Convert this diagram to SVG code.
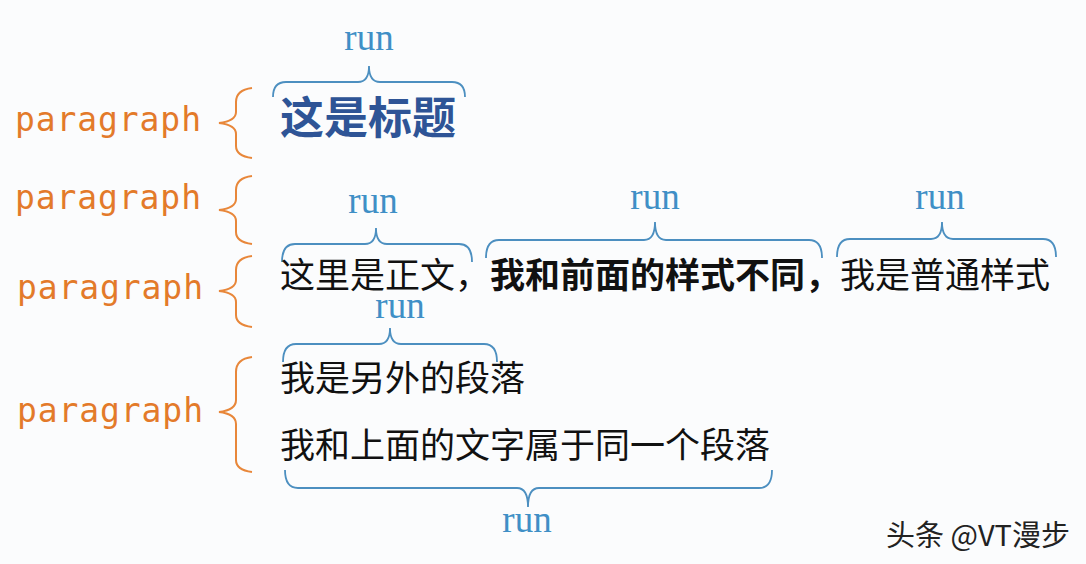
<svg xmlns="http://www.w3.org/2000/svg" width="1086" height="564" viewBox="0 0 1086 564">
<style>
.para{font-family:"DejaVu Sans Mono","Liberation Mono",monospace;font-size:33px;fill:#e37a2a}
.run{font-family:"Liberation Serif","DejaVu Serif",serif;font-size:37px;fill:#3f8fc6;text-anchor:middle}
.ob{fill:none;stroke:#e8873a;stroke-width:2}
.bb{fill:none;stroke:#4c8fc0;stroke-width:1.8}
.txt{font-family:"Noto Sans CJK SC","Noto Sans",sans-serif;font-size:35px;fill:#111}
.bold{font-weight:700}
.title{font-family:"Noto Sans CJK SC","Noto Sans",sans-serif;font-size:44px;font-weight:700;fill:#2e5496}
.wm{font-family:"Noto Sans CJK SC","Noto Sans",sans-serif;font-size:29px;fill:#222}
</style>
<rect width="1086" height="564" fill="#fbfcfd"/>
<g id="labels">
<text class="para" x="15" y="131" textLength="186" lengthAdjust="spacing">paragraph</text>
<text class="para" x="15" y="209" textLength="186" lengthAdjust="spacing">paragraph</text>
<text class="para" x="17" y="299" textLength="186" lengthAdjust="spacing">paragraph</text>
<text class="para" x="17" y="422" textLength="186" lengthAdjust="spacing">paragraph</text>
</g>
<g id="connectors">
<path class="ob" d="M252,88 Q236,90 236,102 L236,112 Q236,121 219,123 Q236,125 236,134 L236,146 Q236,156 252,158"/>
<path class="ob" d="M252,176 Q236,178 236,190 L236,199 Q236,208 219,210 Q236,212 236,221 L236,232 Q236,242 252,244"/>
<path class="ob" d="M252,256 Q236,258 236,270 L236,280 Q236,289 219,291 Q236,293 236,302 L236,315 Q236,325 252,327"/>
<path class="ob" d="M252,357 Q236,359 236,372 L236,400 Q236,410 219,412 Q236,414 236,424 L236,460 Q236,470 252,472"/>
<path class="bb" d="M273,97 Q273,82 286,82 L358,82 Q369,82 369,66 Q369,82 380,82 L452,82 Q465,82 465,97"/>
<path class="bb" d="M282,262 Q282,244 295,244 L365,244 Q376,244 376,228 Q376,244 387,244 L459,244 Q472,244 472,262"/>
<path class="bb" d="M486,258 Q486,240 499,240 L644,240 Q655,240 655,222 Q655,240 666,240 L809,240 Q822,240 822,258"/>
<path class="bb" d="M837,257 Q837,239 850,239 L931,239 Q942,239 942,222 Q942,239 953,239 L1043,239 Q1056,239 1056,257"/>
<path class="bb" d="M283,362 Q283,344 296,344 L379,344 Q390,344 390,328 Q390,344 401,344 L484,344 Q497,344 497,362"/>
<path class="bb" d="M285,470 Q285,488 298,488 L517,488 Q528,488 528,507 Q528,488 539,488 L759,488 Q772,488 772,470"/>
</g>
<g id="runs">
<text class="run" x="369" y="50">run</text>
<text class="run" x="373" y="213">run</text>
<text class="run" x="655" y="209">run</text>
<text class="run" x="940" y="209">run</text>
<text class="run" x="400" y="318">run</text>
<text class="run" x="527" y="532">run</text>
</g>
<g id="title"><text class="title" x="280" y="134">这是标题</text></g>
<g id="body">
<text class="txt" x="280" y="288">这里是正文，<tspan class="bold">我和前面的样式不同，</tspan>我是普通样式</text>
<text class="txt" x="280" y="391">我是另外的段落</text>
<text class="txt" x="280" y="458">我和上面的文字属于同一个段落</text>
</g>
<g id="watermark"><text class="wm" x="886" y="546">头条 @VT漫步</text></g>
</svg>
